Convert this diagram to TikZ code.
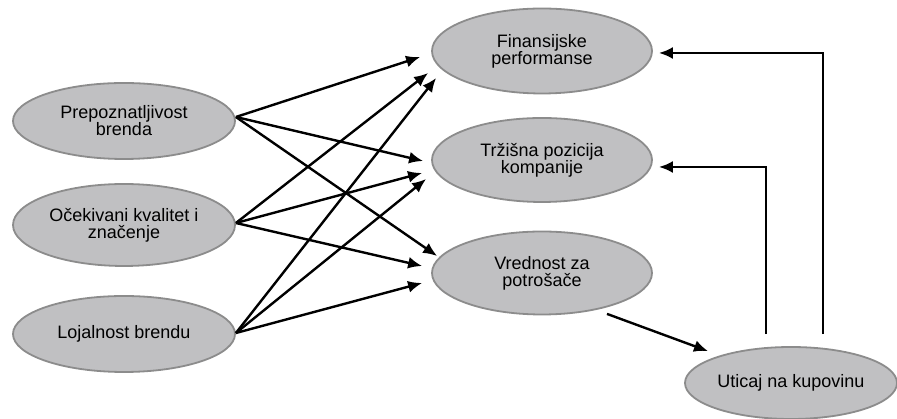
\documentclass[tikz,border=0pt]{standalone}
\usepackage{fontspec}
\setmainfont{Liberation Sans}
\usetikzlibrary{shapes.geometric,arrows.meta,calc}
\definecolor{ellfill}{HTML}{C0C0C2}
\definecolor{elldraw}{HTML}{8C8C8C}
\tikzset{
  ell/.style={ellipse, draw=elldraw, fill=ellfill, line width=1.8pt, inner sep=0pt,
    align=center, font=\fontsize{18}{17}\selectfont},
  arr/.style={draw=black, line width=2.4pt, -{Latex[length=14pt,width=12pt]}},
}
\begin{document}
\begin{tikzpicture}[x=1pt,y=1pt]
\useasboundingbox (0,0) rectangle (897,419);
\fill[white] (0,0) rectangle (897,419);
% left nodes
\node[ell, minimum width=222pt, minimum height=76pt] (PB) at (124,298) {Prepoznatljivost\\brenda};
\node[ell, minimum width=222pt, minimum height=82pt] (OK) at (124,194) {Očekivani kvalitet i\\značenje};
\node[ell, minimum width=222pt, minimum height=76pt] (LB) at (124,85) {Lojalnost brendu};
% right nodes
\node[ell, minimum width=220pt, minimum height=85pt] (FP) at (542,368) {Finansijske\\performanse};
\node[ell, minimum width=220pt, minimum height=84pt] (TP) at (542,259) {Tržišna pozicija\\kompanije};
\node[ell, minimum width=220pt, minimum height=83pt] (VP) at (542,146) {Vrednost za\\potrošače};
\node[ell, minimum width=212pt, minimum height=72pt] (UK) at (791,36) {Uticaj na kupovinu};
% start points
\coordinate (sPB) at ($(PB.east)+(0,4)$);
\coordinate (sOK) at ($(OK.east)+(0,2)$);
\coordinate (sLB) at ($(LB.east)+(0,1)$);
% tips
\coordinate (fp1) at ($(FP.west)+(-11,-6)$);
\coordinate (fp2) at ($(FP.west)+(-3,-22)$);
\coordinate (fp3) at ($(FP.west)+(5,-27)$);
\coordinate (tp1) at ($(TP.west)+(-8,-1)$);
\coordinate (tp2) at ($(TP.west)+(-9,-13)$);
\coordinate (tp3) at ($(TP.west)+(-5,-19)$);
\coordinate (vp1) at ($(VP.west)+(6,17)$);
\coordinate (vp2) at ($(VP.west)+(-9,7)$);
\coordinate (vp3) at ($(VP.west)+(-9,-10)$);
\draw[arr] (sPB) -- (fp1);
\draw[arr] (sPB) -- (tp1);
\draw[arr] (sPB) -- (vp1);
\draw[arr] (sOK) -- (fp2);
\draw[arr] (sOK) -- (tp2);
\draw[arr] (sOK) -- (vp2);
\draw[arr] (sLB) -- (fp3);
\draw[arr] (sLB) -- (tp3);
\draw[arr] (sLB) -- (vp3);
% value -> purchase
\coordinate (sVP) at ($(VP.south)+(65,1.5)$);
\coordinate (tUK) at ($(UK.north)+(-83,-5)$);
\draw[arr] (sVP) -- (tUK);
% feedback
\coordinate (sUK1) at ($(UK.north)+(-25,12)$);
\coordinate (sUK2) at ($(UK.north)+(32,12)$);
\coordinate (tTP) at ($(TP.east)+(6,-7)$);
\coordinate (tFP) at ($(FP.east)+(6,-2)$);
\draw[arr] (sUK1) |- (tTP);
\draw[arr] (sUK2) |- (tFP);
\end{tikzpicture}
\end{document}
